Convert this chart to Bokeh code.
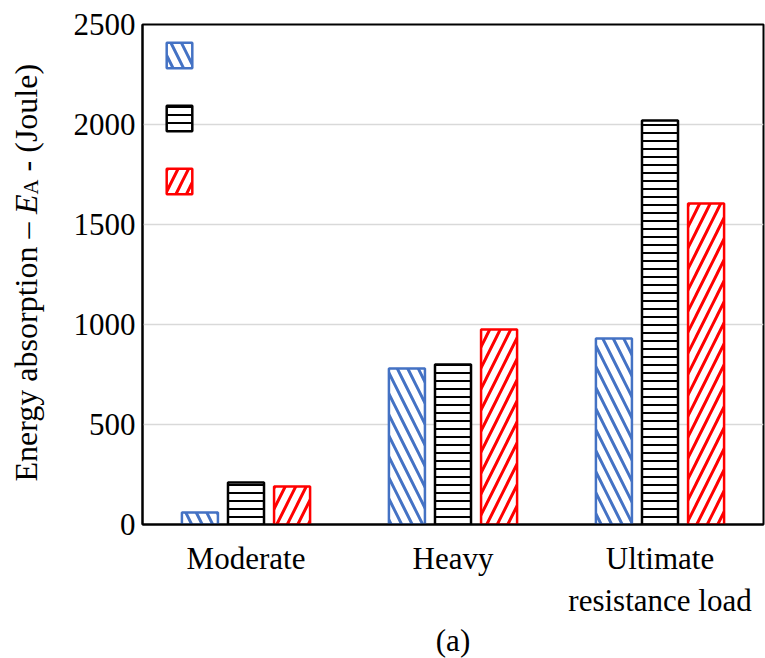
import math

from bokeh.core.properties import value
from bokeh.embed import file_html
from bokeh.layouts import row
from bokeh.models import (ColumnDataSource, FactorRange, FixedTicker, Legend,
                          LegendItem, Range1d, Title)
from bokeh.plotting import figure
from bokeh.resources import INLINE
from bokeh.transform import dodge

# ---- data -------------------------------------------------------------
categories = ["Moderate", "Heavy", "Ultimate\nresistance load"]
series_blue = [60, 780, 930]
series_black = [210, 800, 2020]
series_red = [190, 975, 1605]
y_ticks = [0, 500, 1000, 1500, 2000, 2500]

FONT = "Liberation Serif"
FS = 31        # tick labels / caption, px
FS_TITLE = 32  # y-axis title, px

source = ColumnDataSource(dict(cat=categories, blue=series_blue,
                               black=series_black, red=series_red))

# ---- main chart ---------------------------------------------------------
p = figure(x_range=FactorRange(*categories), y_range=(0, 2500),
           width=705, height=658, output_backend="svg", toolbar_location=None,
           min_border_left=82, min_border_right=2, min_border_top=24,
           min_border_bottom=134)
p.background_fill_color = "white"
p.border_fill_color = "white"
p.outline_line_color = "black"
p.outline_line_width = 2
p.outline_line_alpha = 1

specs = [
    ("blue", "#4472C4", "left_diagonal_line", -0.2226, 21, 3),
    ("black", "#000000", "horizontal_line", 0.0, 8, 2),
    ("red", "#FF0000", "right_diagonal_line", 0.2226, 21, 3),
]
renderers = []
for field, color, pattern, off, scale, weight in specs:
    r = p.vbar(x=dodge("cat", off, range=p.x_range), top=field, width=0.174,
               source=source, fill_color="white", line_color=color,
               line_width=2.5, hatch_pattern=pattern, hatch_color=color,
               hatch_scale=scale, hatch_weight=weight)
    renderers.append(r)

# legend: swatches only
legend = Legend(items=[LegendItem(label=value(" "), renderers=[r]) for r in renderers],
                location=(21, 327), glyph_width=32, glyph_height=32,
                spacing=31, padding=0, margin=0, label_standoff=0,
                label_width=0, label_height=32, label_text_font_size="2px",
                border_line_color=None, background_fill_alpha=0)
p.add_layout(legend)

p.xgrid.visible = False
p.ygrid.grid_line_color = "#d9d9d9"
p.ygrid.grid_line_width = 1.5

p.yaxis.ticker = FixedTicker(ticks=y_ticks)
for ax in (p.xaxis[0], p.yaxis[0]):
    ax.major_tick_line_color = None
    ax.minor_tick_line_color = None
    ax.axis_line_color = "black"
    ax.axis_line_width = 2
    ax.major_label_text_font = FONT
    ax.major_label_text_font_size = f"{FS}px"
    ax.major_label_text_color = "black"
p.yaxis.major_label_standoff = 1
p.xaxis.major_label_standoff = 10

# caption under the chart
p.add_layout(Title(text="(a)", align="center", standoff=0, offset=0,
                   text_font=FONT, text_font_size=f"{FS}px",
                   text_font_style="normal", text_color="black"), "below")

# ---- side strip holding the y-axis title (italic E, subscript A) --------
# its frame is aligned with the main frame (24..524 px), so the range maps 1:1
side = figure(width=60, height=658, x_range=Range1d(0, 60),
              y_range=Range1d(524, 24), output_backend="svg",
              toolbar_location=None, x_axis_type=None, y_axis_type=None,
              min_border=0)
side.outline_line_color = None
side.grid.visible = False
side.background_fill_color = "white"
side.border_fill_color = "white"

base_x = 25
start_y = 481
w1 = 8.36 * FS_TITLE
wE = 0.611 * FS_TITLE
sub_fs = 0.65 * FS_TITLE
wA = 0.722 * sub_fs
NB = "\u00a0"
pieces = [
    ("Energy absorption \u2013" + NB, start_y, base_x, FS_TITLE, "normal"),
    ("E", start_y - w1, base_x, FS_TITLE, "italic"),
    ("A", start_y - w1 - wE, base_x + 5, sub_fs, "normal"),
    (NB + "-" + NB + "(Joule)", start_y - w1 - wE - wA, base_x, FS_TITLE, "normal"),
]
for txt, yy, xx, fs, style in pieces:
    side.text(x=[xx], y=[yy], text=[txt], angle=math.pi / 2,
              text_align="left", text_baseline="alphabetic",
              text_font=value(FONT), text_font_size=f"{fs:.1f}px",
              text_font_style=style, text_color="black")

layout = row(side, p, spacing=0)
open("out.html", "w").write(file_html(layout, INLINE))
